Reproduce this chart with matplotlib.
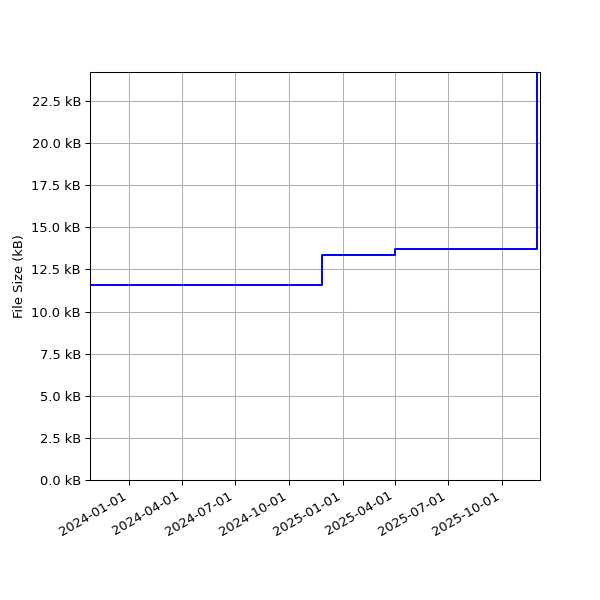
import matplotlib
matplotlib.use("Agg")
import matplotlib.pyplot as plt
import matplotlib.dates as mdates
from matplotlib.ticker import FuncFormatter, MultipleLocator
import pandas as pd

dates = ["2023-10-26", "2024-11-27", "2025-04-01", "2025-11-30", "2025-12-05"]
sizes_kb = [11.58, 13.36, 13.72, 24.22, 24.22]

x = pd.to_datetime(dates)

fig, ax = plt.subplots(figsize=(6.4, 6.4), dpi=93.75)
ax.plot(x, sizes_kb, color="blue", drawstyle="steps-post")
ax.set_xlim(x[0], x[-1])
ax.set_ylim(0, max(sizes_kb))
ax.yaxis.set_major_locator(MultipleLocator(2.5))
ax.yaxis.set_major_formatter(FuncFormatter(lambda v, p: f"{v:.1f} kB"))
ax.xaxis.set_major_locator(mdates.MonthLocator(bymonth=[1, 4, 7, 10]))
ax.xaxis.set_major_formatter(mdates.DateFormatter("%Y-%m-%d"))
ax.set_ylabel("File Size (kB)")
ax.grid(True)
fig.autofmt_xdate()
fig.subplots_adjust(left=0.15, right=0.9, top=0.88, bottom=0.2)
fig.savefig("out.png", dpi=93.75)
